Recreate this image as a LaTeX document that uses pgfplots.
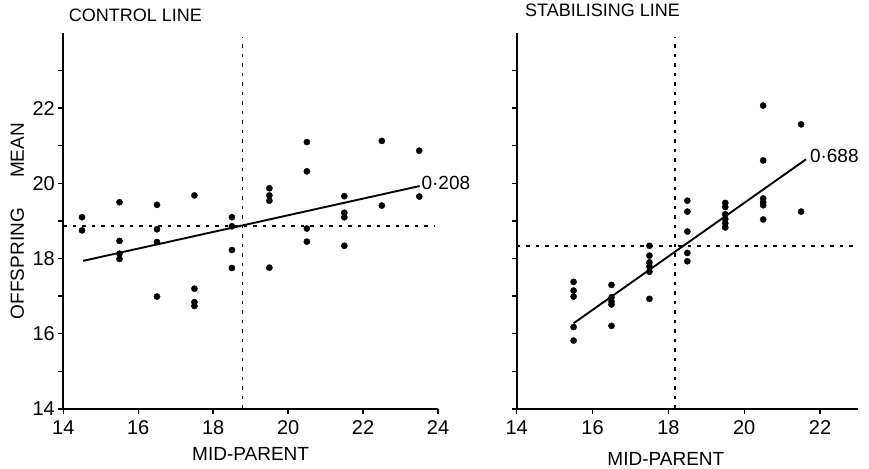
\documentclass[border=0pt]{standalone}
\usepackage{fontspec}
\setmainfont{Liberation Sans}
\usepackage{pgfplots}
\pgfplotsset{compat=1.18}
\pgfplotstableread{
x y
14.5 19.10
14.5 18.75
15.5 19.50
15.5 18.47
15.5 18.13
15.5 17.99
16.5 19.43
16.5 18.78
16.5 18.44
16.5 16.99
17.5 19.68
17.5 17.20
17.5 16.84
17.5 16.74
18.5 19.10
18.5 18.86
18.5 18.23
18.5 17.75
19.5 19.87
19.5 19.68
19.5 19.54
19.5 17.76
20.5 21.10
20.5 20.32
20.5 18.80
20.5 18.45
21.5 19.66
21.5 19.22
21.5 19.10
21.5 18.34
22.5 21.13
22.5 19.41
23.5 20.87
23.5 19.65
}\controldata
\pgfplotstableread{
x y
15.5 17.38
15.5 17.15
15.5 16.99
15.5 16.18
15.5 15.82
16.5 17.30
16.5 16.97
16.5 16.86
16.5 16.78
16.5 16.21
17.5 18.34
17.5 18.08
17.5 17.90
17.5 17.79
17.5 17.65
17.5 16.93
18.5 19.54
18.5 19.25
18.5 18.72
18.5 18.15
18.5 17.93
19.5 19.48
19.5 19.37
19.5 19.18
19.5 19.05
19.5 18.94
19.5 18.83
20.5 22.07
20.5 20.61
20.5 19.60
20.5 19.50
20.5 19.42
20.5 19.04
21.5 21.57
21.5 19.25
}\stabdata
\begin{document}
\begin{tikzpicture}
\useasboundingbox (0pt,0pt) rectangle (869pt,468pt);
\pgfplotsset{
 panel/.style={
  scale only axis, height=376pt, ymin=14, ymax=24,
  anchor=south west,
  axis x line=bottom, axis y line=left,
  axis line style={-, line width=1.8pt},
  tick align=outside, major tick length=5pt, minor tick length=5pt,
  every tick/.style={black, line width=1.4pt},
  tick label style={font=\fontsize{20}{22}\selectfont},
  xticklabel style={yshift=-3pt},
  /pgf/number format/assume math mode=true,
  label style={font=\fontsize{19}{20}\selectfont},
  title style={font=\fontsize{18}{20}\selectfont, anchor=west},
  clip=false,
 },
 dots/.style={only marks, mark=*, mark size=3.1pt, black},
 reg/.style={black, line width=1.9pt},
 dline/.style={black, line width=1.6pt, dash pattern=on 3.5pt off 6pt},
}
% Left panel
\begin{axis}[panel, at={(63.3pt,59pt)}, width=374.7pt,
  xmin=14, xmax=24,
  xtick={14,16,18,20,22,24},
  ytick={14,16,18,20,22}, minor ytick={15,17,19,21,23},
  title={CONTROL LINE},
  title style={at={(axis description cs:0,1)}, xshift=2pt, yshift=12pt},
  xlabel={MID-PARENT},
  xlabel style={at={(axis description cs:0.5,0)}, anchor=center, yshift=-45pt},
  ylabel={OFFSPRING\hspace{1.6em}MEAN},
  ylabel style={at={(axis description cs:0,0.5)}, anchor=center, rotate=0, yshift=46pt},
]
\addplot[dline] coordinates {(14,18.87) (23.9,18.87)};
\addplot[dline] coordinates {(18.78,14) (18.78,23.9)};
\addplot[dots] table[x=x,y=y] {\controldata};
\addplot[reg] coordinates {(14.53,17.94) (23.51,19.93)}
  node[pos=1, anchor=west, inner sep=1pt, yshift=3pt, font=\fontsize{19}{20}\selectfont] {0·208};
\end{axis}
% Right panel
\begin{axis}[panel, at={(516.7pt,59pt)}, width=341.3pt,
  xmin=14, xmax=23,
  xtick={14,16,18,20,22},
  ytick={14,15,...,23}, yticklabels={},
  title={STABILISING LINE},
  title style={at={(axis description cs:0,1)}, xshift=5pt, yshift=16.5pt},
  xlabel={MID-PARENT},
  xlabel style={at={(axis description cs:0.437,0)}, anchor=center, yshift=-50pt},
]
\addplot[dline] coordinates {(14,18.34) (23,18.34)};
\addplot[dline] coordinates {(18.18,14) (18.18,23.9)};
\addplot[dots] table[x=x,y=y] {\stabdata};
\addplot[reg] coordinates {(15.5,16.28) (21.63,20.64)}
  node[pos=1, anchor=west, inner sep=1pt, xshift=2pt, yshift=3pt, font=\fontsize{19}{20}\selectfont] {0·688};
\end{axis}
\end{tikzpicture}
\end{document}
